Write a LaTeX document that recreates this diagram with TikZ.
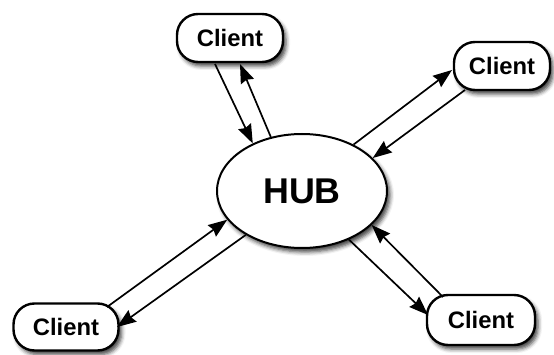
\documentclass[tikz,border=0pt]{standalone}
\usepackage{fontspec}
\setmainfont{Liberation Sans}
\usetikzlibrary{arrows.meta,shadows.blur,shapes.geometric}
\begin{document}
\begin{tikzpicture}[x=1pt,y=1pt,
  clientbox/.style={draw=black, line width=2.4pt, fill=white, rounded corners=21pt,
    minimum width=106pt, minimum height=48pt, inner sep=0pt,
    font=\fontsize{23.8}{24}\selectfont\bfseries,
    blur shadow={shadow xshift=3pt, shadow yshift=-4pt, shadow blur radius=4pt, shadow opacity=75}},
  hubnode/.style={draw=black, line width=2pt, fill=white, ellipse,
    minimum width=170pt, minimum height=114pt, inner sep=0pt,
    font=\fontsize{35.8}{36}\selectfont\bfseries,
    blur shadow={shadow xshift=3pt, shadow yshift=-4pt, shadow blur radius=4pt, shadow opacity=75}},
  link/.style={line width=1.7pt, -{Stealth[length=19pt,width=14pt,inset=2pt]}}
]
\useasboundingbox (0,0) rectangle (554,-355);
\node[hubnode] (hub) at (302,-191) {HUB};
\node[clientbox] (top) at (230,-38) {Client};
\node[clientbox, minimum width=96pt] (right) at (502,-66) {Client};
\node[clientbox, minimum width=105pt, minimum height=47pt] (bl) at (66,-327) {Client};
\node[clientbox, minimum width=108pt, minimum height=50pt] (br) at (481,-320) {Client};
% top
\draw[link] ([shift={(-15,-26)}]top.center) -- (hub.136.6);
\draw[link] (hub.120.7) -- ([shift={(10,-26)}]top.center);
% right
\draw[link] (hub.42.2) -- ([shift={(-50,-4)}]right.center);
\draw[link] ([shift={(-37,-24)}]right.center) -- (hub.25);
% bottom left
\draw[link] ([shift={(41,20)}]bl.center) -- (hub.201.4);
\draw[link] (hub.218.7) -- ([shift={(51,0)}]bl.center);
% bottom right
\draw[link] (hub.-46.8) -- ([shift={(-53,5)}]br.center);
\draw[link] ([shift={(-38,23)}]br.center) -- (hub.-26.6);
\end{tikzpicture}
\end{document}
